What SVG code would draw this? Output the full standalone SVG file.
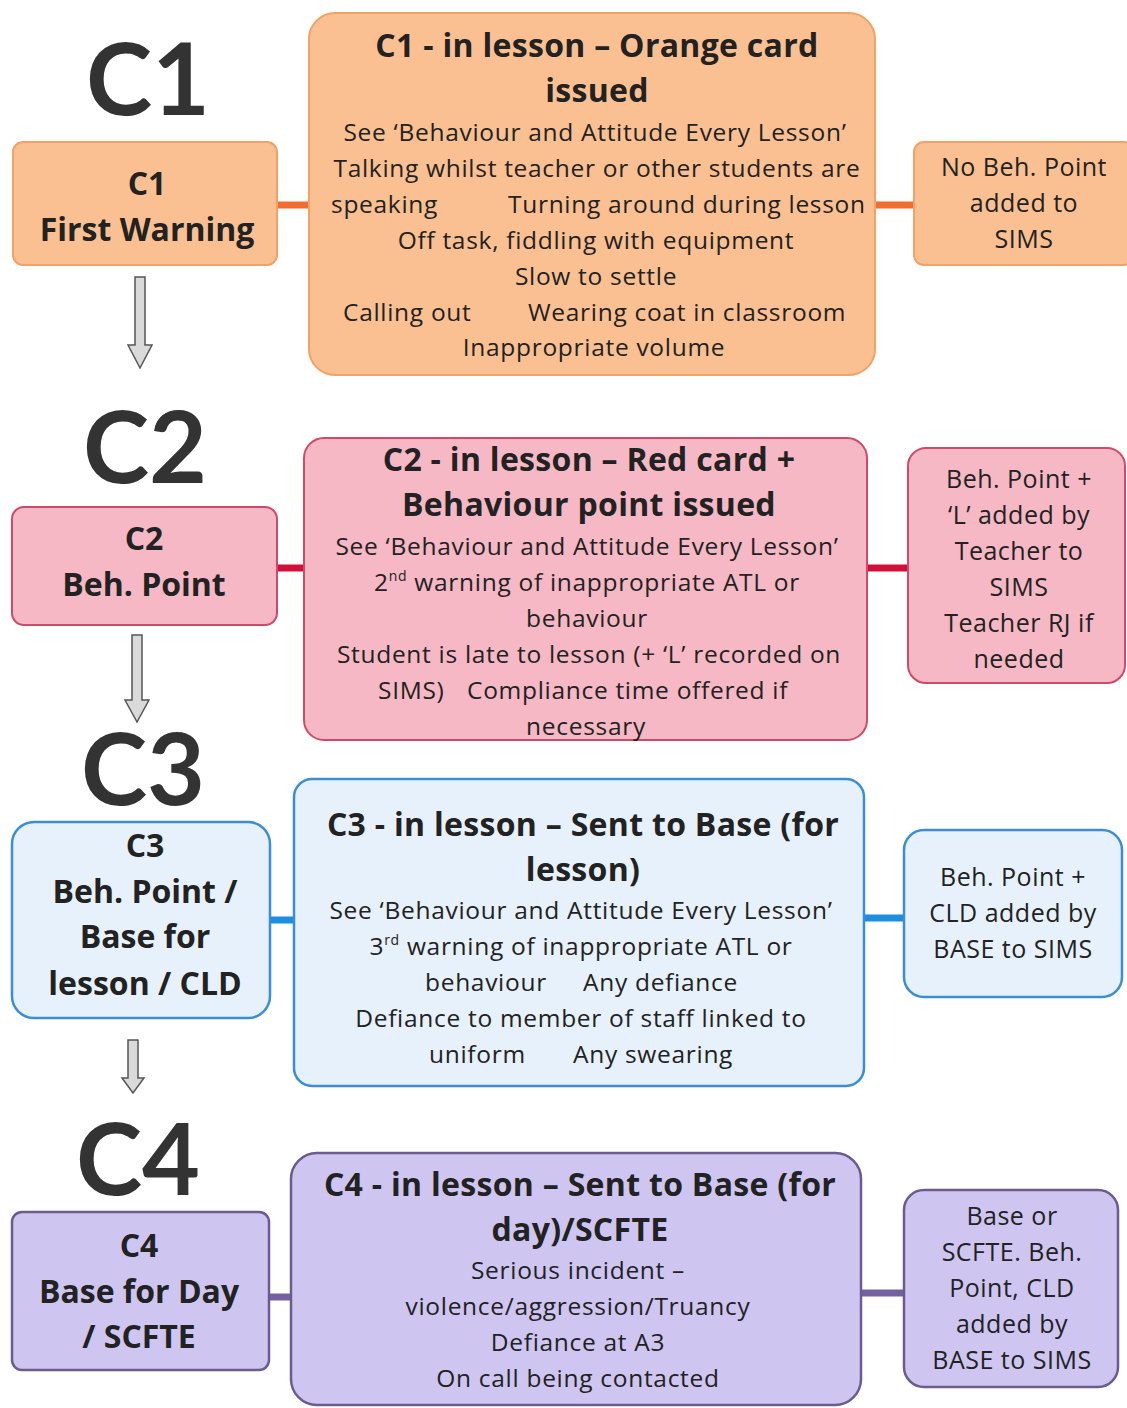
<svg xmlns="http://www.w3.org/2000/svg" width="1127" height="1408" viewBox="0 0 1127 1408">
<style>
text{font-family:"Open Sans","DejaVu Sans",sans-serif;fill:#222;text-anchor:middle}
.big{font-family:Lato,"Open Sans",sans-serif;font-size:100px;font-weight:bold;fill:#333}
.lt{font-size:32px;font-weight:bold}
.tt{font-size:32px;font-weight:bold;letter-spacing:0.3px}
.bd{font-size:24.5px;letter-spacing:0.7px}
.rt{font-size:25px;letter-spacing:0.5px}
.st{text-anchor:start}
.o{fill:#FAC091;stroke:#F3A265;stroke-width:2}
.r{fill:#F5B8C4;stroke:#CF4A68;stroke-width:2}
.b{fill:#E7F1FB;stroke:#3B8DD6;stroke-width:2.5}
.p{fill:#CEC6F1;stroke:#6B5B8E;stroke-width:2.5}
.arr{fill:#DADADA;stroke:#555;stroke-width:1.5}
</style>
<rect width="1127" height="1408" fill="#fff"/>
<g id="labels">
<text class="big" x="148" y="115">C1</text>
<text class="big" x="145" y="483">C2</text>
<text class="big" x="143" y="805">C3</text>
<text class="big" x="138" y="1195">C4</text>
</g>
<g id="connectors">
<line x1="277" y1="205" x2="309" y2="205" stroke="#F26B2F" stroke-width="7"/>
<line x1="875" y1="205" x2="914" y2="205" stroke="#F26B2F" stroke-width="7"/>
<line x1="277" y1="568" x2="304" y2="568" stroke="#D0103A" stroke-width="7"/>
<line x1="867" y1="568" x2="908" y2="568" stroke="#D0103A" stroke-width="7"/>
<line x1="270" y1="920" x2="294" y2="920" stroke="#1E8FE0" stroke-width="7"/>
<line x1="864" y1="918" x2="904" y2="918" stroke="#1E8FE0" stroke-width="7"/>
<line x1="269" y1="1297" x2="291" y2="1297" stroke="#7560A0" stroke-width="7"/>
<line x1="861" y1="1293" x2="904" y2="1293" stroke="#7560A0" stroke-width="7"/>
<polygon class="arr" points="135,277 145,277 145,345 152,345 140,368 128,345 135,345"/>
<polygon class="arr" points="132,635 142,635 142,700 149,700 137,722 125,700 132,700"/>
<polygon class="arr" points="128,1040 138,1040 138,1078 144,1078 133,1093 122,1078 128,1078"/>
</g>
<g id="c1-left">
<rect class="o" x="13" y="142" width="264" height="123" rx="10"/>
<text class="lt" x="147" y="195">C1</text>
<text class="lt" x="147" y="241">First Warning</text>
</g>
<g id="c1-mid">
<rect class="o" x="309" y="13" width="566" height="362" rx="26"/>
<text class="tt" x="597" y="57">C1 - in lesson – Orange card</text>
<text class="tt" x="597" y="102">issued</text>
<text class="bd" x="595" y="141">See ‘Behaviour and Attitude Every Lesson’</text>
<text class="bd" x="597" y="177">Talking whilst teacher or other students are</text>
<text class="bd st" x="331" y="213">speaking</text>
<text class="bd st" x="508" y="213">Turning around during lesson</text>
<text class="bd" x="596" y="249">Off task, fiddling with equipment</text>
<text class="bd" x="596" y="285">Slow to settle</text>
<text class="bd st" x="343" y="321">Calling out</text>
<text class="bd st" x="528" y="321">Wearing coat in classroom</text>
<text class="bd" x="594" y="356">Inappropriate volume</text>
</g>
<g id="c1-right">
<rect class="o" x="914" y="142" width="220" height="123" rx="10"/>
<text class="rt" x="1024" y="176">No Beh. Point</text>
<text class="rt" x="1024" y="212">added to</text>
<text class="rt" x="1024" y="248">SIMS</text>
</g>
<g id="c2-left">
<rect class="r" x="12" y="507" width="265" height="118" rx="12"/>
<text class="lt" x="144" y="550">C2</text>
<text class="lt" x="144" y="596">Beh. Point</text>
</g>
<g id="c2-mid">
<rect class="r" x="304" y="438" width="563" height="302" rx="20"/>
<text class="tt" x="589" y="471">C2 - in lesson – Red card +</text>
<text class="tt" x="589" y="516">Behaviour point issued</text>
<text class="bd" x="587" y="555">See ‘Behaviour and Attitude Every Lesson’</text>
<text class="bd" x="587" y="591">2<tspan font-size="14" dy="-10">nd</tspan><tspan dy="10"> warning of inappropriate ATL or</tspan></text>
<text class="bd" x="587" y="627">behaviour</text>
<text class="bd" x="589" y="663">Student is late to lesson (+ ‘L’ recorded on</text>
<text class="bd st" x="378" y="699">SIMS)</text>
<text class="bd st" x="467" y="699">Compliance time offered if</text>
<text class="bd" x="586" y="735">necessary</text>
</g>
<g id="c2-right">
<rect class="r" x="908" y="448" width="217" height="235" rx="18"/>
<text class="rt" x="1019" y="488">Beh. Point +</text>
<text class="rt" x="1019" y="524">‘L’ added  by</text>
<text class="rt" x="1019" y="560">Teacher to</text>
<text class="rt" x="1019" y="596">SIMS</text>
<text class="rt" x="1019" y="632">Teacher RJ if</text>
<text class="rt" x="1019" y="668">needed</text>
</g>
<g id="c3-left">
<rect class="b" x="12" y="822" width="258" height="196" rx="22"/>
<text class="lt" x="145" y="857">C3</text>
<text class="lt" x="145" y="903">Beh. Point /</text>
<text class="lt" x="145" y="948">Base for</text>
<text class="lt" x="145" y="995">lesson / CLD</text>
</g>
<g id="c3-mid">
<rect class="b" x="294" y="779" width="570" height="307" rx="18"/>
<text class="tt" x="583" y="836">C3 - in lesson – Sent to Base (for</text>
<text class="tt" x="583" y="881">lesson)</text>
<text class="bd" x="581" y="919">See ‘Behaviour and Attitude Every Lesson’</text>
<text class="bd" x="581" y="955">3<tspan font-size="14" dy="-10">rd</tspan><tspan dy="10"> warning of inappropriate ATL or</tspan></text>
<text class="bd st" x="425" y="991">behaviour</text>
<text class="bd st" x="583" y="991">Any defiance</text>
<text class="bd" x="581" y="1027">Defiance to member of staff linked to</text>
<text class="bd st" x="429" y="1063">uniform</text>
<text class="bd st" x="573" y="1063">Any swearing</text>
</g>
<g id="c3-right">
<rect class="b" x="904" y="830" width="218" height="167" rx="20"/>
<text class="rt" x="1013" y="886">Beh. Point +</text>
<text class="rt" x="1013" y="922">CLD added by</text>
<text class="rt" x="1013" y="958">BASE to SIMS</text>
</g>
<g id="c4-left">
<rect class="p" x="12" y="1212" width="257" height="158" rx="10"/>
<text class="lt" x="139" y="1257">C4</text>
<text class="lt" x="139" y="1303">Base for Day</text>
<text class="lt" x="139" y="1348">/ SCFTE</text>
</g>
<g id="c4-mid">
<rect class="p" x="291" y="1153" width="570" height="252" rx="26"/>
<text class="tt" x="580" y="1196">C4 - in lesson – Sent to Base (for</text>
<text class="tt" x="580" y="1241">day)/SCFTE</text>
<text class="bd" x="578" y="1279">Serious incident –</text>
<text class="bd" x="578" y="1315">violence/aggression/Truancy</text>
<text class="bd" x="578" y="1351">Defiance at A3</text>
<text class="bd" x="578" y="1387">On call being contacted</text>
</g>
<g id="c4-right">
<rect class="p" x="904" y="1190" width="214" height="197" rx="20"/>
<text class="rt" x="1012" y="1225">Base or</text>
<text class="rt" x="1012" y="1261">SCFTE. Beh.</text>
<text class="rt" x="1012" y="1297">Point, CLD</text>
<text class="rt" x="1012" y="1333">added by</text>
<text class="rt" x="1012" y="1369">BASE to SIMS</text>
</g>
</svg>
